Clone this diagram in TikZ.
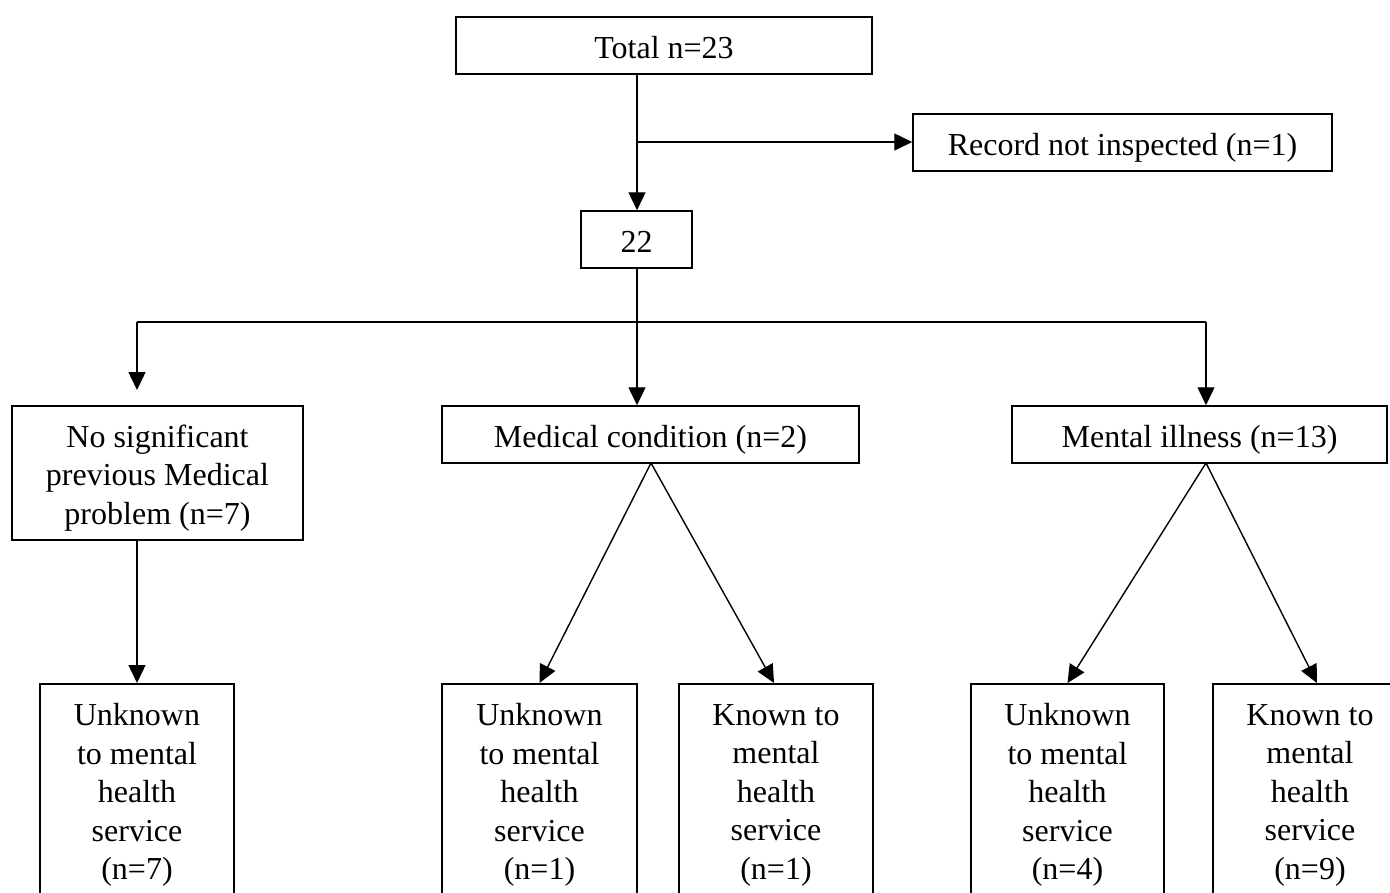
\documentclass[tikz,border=0pt]{standalone}
\usepackage{fontspec}
\setmainfont{Liberation Serif}
\usetikzlibrary{arrows.meta}
\begin{document}
\begin{tikzpicture}[x=1pt,y=-1pt,
  box/.style={draw, line width=1.5pt, inner sep=0pt, align=center, font=\fontsize{32}{38.5}\selectfont},
  single/.style={text height=25pt, text depth=0pt},
  arr/.style={line width=1.4pt, -{Triangle[length=18pt,width=17pt]}},
  ln/.style={line width=1.4pt}]
\useasboundingbox (0,0) rectangle (1390,892);
\clip (0,0) rectangle (1390,892);
% top
\node[box, single, minimum width=416pt, minimum height=57pt] (total) at (664,45.5) {Total n=23};
\node[box, single, minimum width=419pt, minimum height=57pt] (rec) at (1122.5,142.5) {Record not inspected (n=1)};
\node[box, single, minimum width=111pt, minimum height=57pt] (n22) at (636.5,239.5) {22};
% middle row
\node[box, minimum width=291pt, minimum height=134pt] (nosig) at (157.5,473) {\rule{0pt}{32pt}No significant\\previous Medical\\problem (n=7)};
\node[box, single, minimum width=417pt, minimum height=57pt] (med) at (650.5,434.5) {Medical condition (n=2)};
\node[box, single, minimum width=375pt, minimum height=57pt] (ment) at (1199.5,434.5) {Mental illness (n=13)};
% bottom row
\node[box, anchor=north, minimum width=194pt, minimum height=223pt] (u7) at (137,683) {Unknown\\to mental\\health\\service\\(n=7)};
\node[box, anchor=north, minimum width=195pt, minimum height=223pt] (u1) at (539.5,683) {Unknown\\to mental\\health\\service\\(n=1)};
\node[box, anchor=north, minimum width=194pt, minimum height=223pt] (k1) at (776,683) {Known to\\mental\\health\\service\\(n=1)};
\node[box, anchor=north, minimum width=193pt, minimum height=223pt] (u4) at (1067.5,683) {Unknown\\to mental\\health\\service\\(n=4)};
\node[box, anchor=north, minimum width=194pt, minimum height=223pt] (k9) at (1310,683) {Known to\\mental\\health\\service\\(n=9)};
% coordinates
\coordinate (top) at (637,74);
\coordinate (br) at (637,142);
\coordinate (hub) at (637,322);
\coordinate (hl) at (137,322);
\coordinate (hr) at (1206,322);
\coordinate (nl) at (137,390);
% connectors
\draw[arr] (top) -- (n22.north -| top);
\draw[arr] (br) -- (rec.west |- br);
\draw[ln] (n22.south -| hub) -- (hub);
\draw[ln] (hl) -- (hr);
\draw[arr] (hl) -- (nl);
\draw[arr] (hub) -- (med.north -| hub);
\draw[arr] (hr) -- (ment.north -| hr);
\draw[arr] (nosig.south -| hl) -- (u7.north);
\draw[arr] (651,463) -- (u1.north);
\draw[arr] (651,463) -- ([xshift=-2pt]k1.north);
\draw[arr] (1206,463) -- (u4.north);
\draw[arr] (1206,463) -- ([xshift=7pt]k9.north);
\end{tikzpicture}
\end{document}
